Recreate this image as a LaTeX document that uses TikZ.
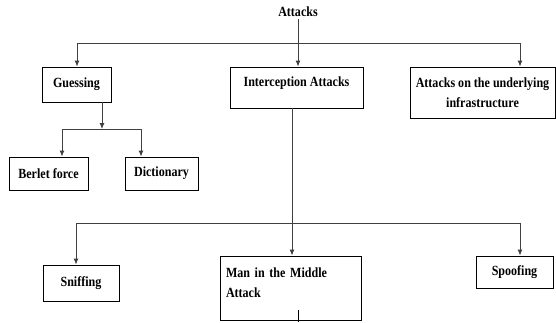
\documentclass[tikz,border=0pt]{standalone}
\usepackage{fontspec}
\setmainfont[FakeStretch=0.86]{Liberation Serif}
\usetikzlibrary{arrows.meta}
\begin{document}
\begin{tikzpicture}[x=1pt,y=-1pt,
  txt/.style={font=\fontsize{14}{20}\selectfont\bfseries},
  box/.style={txt,draw,line width=0.9pt,inner sep=4pt},
  link/.style={draw=black!75,line width=0.9pt},
  arr/.style={link,-{Latex[length=6pt,width=5pt]}}]
  \useasboundingbox (0,0) rectangle (556,322);
  \node[txt,inner sep=2pt] (top) at (298,12) {Attacks};
  \node[box,minimum width=69pt,minimum height=35pt] (guess) at (76.5,84.5) {Guessing};
  \node[box,minimum width=133pt,minimum height=41pt,text height=15pt,text depth=18pt] (icpt) at (296.5,87.5) {Interception Attacks};
  \node[box,minimum width=145pt,minimum height=51pt,align=center] (infra) at (482.5,92.5) {Attacks on the underlying\\infrastructure};
  \node[box,minimum width=79pt,minimum height=33pt] (berlet) at (48.5,173.5) {Berlet force};
  \node[box,minimum width=73pt,minimum height=33pt] (dict) at (161.5,173.5) {Dictionary};
  \node[box,minimum width=76pt,minimum height=36pt] (sniff) at (81,283) {Sniffing};
  \node[box,minimum width=141pt,minimum height=64pt,text width=129pt,align=left,text height=17pt,text depth=39pt] (mitm) at (290.5,288) {Man in the Middle\\Attack};
  \node[box,minimum width=77pt,minimum height=32pt] (spoof) at (514.5,272) {Spoofing};
  % first level
  \coordinate (gl) at (77,43);
  \coordinate (ic) at (298,43);
  \coordinate (ir) at (520,43);
  \draw[arr] (top.south -| ic) -- (ic |- icpt.north);
  \draw[link] (gl) -- (ir);
  \draw[arr] (gl) -- (gl |- guess.north);
  \draw[arr] (ir) -- (ir |- infra.north);
  % guessing
  \coordinate (gd) at (102,129);
  \coordinate (bl) at (62,129);
  \coordinate (br) at (141,129);
  \draw[arr] (gd |- guess.south) -- (gd);
  \draw[link] (bl) -- (br);
  \draw[arr] (bl) -- (bl |- berlet.north);
  \draw[arr] (br) -- (br |- dict.north);
  % interception
  \coordinate (sl) at (76,223);
  \coordinate (mc) at (292,223);
  \coordinate (sr) at (520,223);
  \draw[arr] (mc |- icpt.south) -- (mc |- mitm.north);
  \draw[link] (sl) -- (sr);
  \draw[arr] (sl) -- (sl |- sniff.north);
  \draw[arr] (sr) -- (sr |- spoof.north);
  \coordinate (tk) at (298,310);
  \draw[line width=0.9pt] (tk) -- (tk |- 0,322);
\end{tikzpicture}
\end{document}
